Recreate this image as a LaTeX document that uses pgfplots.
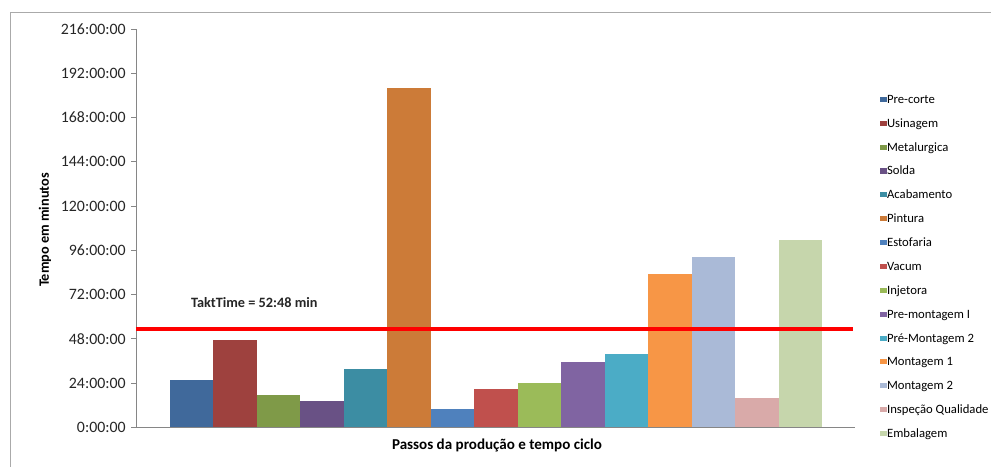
\documentclass[border=0pt]{standalone}
\usepackage{fontspec}
\setmainfont{Carlito}
\usepackage{pgfplots}
\pgfplotsset{compat=1.18}
\definecolor{c1}{HTML}{40699B}
\definecolor{c2}{HTML}{9E413E}
\definecolor{c3}{HTML}{7F9A48}
\definecolor{c4}{HTML}{695185}
\definecolor{c5}{HTML}{3C8DA3}
\definecolor{c6}{HTML}{CC7B38}
\definecolor{c7}{HTML}{4F81BD}
\definecolor{c8}{HTML}{C0504D}
\definecolor{c9}{HTML}{9BBB59}
\definecolor{c10}{HTML}{8064A2}
\definecolor{c11}{HTML}{4BACC6}
\definecolor{c12}{HTML}{F79646}
\definecolor{c13}{HTML}{AABAD7}
\definecolor{c14}{HTML}{D9AAA9}
\definecolor{c15}{HTML}{C6D6AC}
\definecolor{axgray}{HTML}{868686}
\begin{document}
\begin{tikzpicture}
\path[use as bounding box] (0,0) rectangle (625pt,293.9pt);
\draw[axgray!70, line width=0.6pt] (6.9pt,-2pt) -- (6.9pt,286.3pt) -- (630pt,286.3pt);
\begin{axis}[
  at={(85.77pt,24.4pt)}, anchor=south west,
  scale only axis, width=453.5pt, height=251.2pt,
  xmin=-0.28, xmax=16.25, ymin=0, ymax=216,
  axis x line*=bottom, axis y line*=left,
  x axis line style={axgray, line width=0.9pt, -},
  y axis line style={axgray, line width=0.5pt, -},
  xtick=\empty,
  ytick={0,24,...,216},
  yticklabels={0:00:00,24:00:00,48:00:00,72:00:00,96:00:00,120:00:00,144:00:00,168:00:00,192:00:00,216:00:00},
  tick align=outside, major tick length=3pt,
  y tick style={axgray, line width=0.5pt},
  /pgf/number format/assume math mode=true,
  yticklabel style={font=\fontsize{10}{12}\selectfont, text=black!85},
  ylabel={Tempo em minutos},
  xlabel={Passos da produção e tempo ciclo},
  every axis y label/.style={at={(axis description cs:-0.1266,0.4954)}, rotate=90, anchor=center, font=\bfseries\fontsize{9}{11}\selectfont},
  every axis x label/.style={at={(axis description cs:0.502,-0.0444)}, anchor=center, font=\bfseries\fontsize{9.5}{11}\selectfont},
  bar width=1, bar shift=0pt,
  legend style={at={(axis description cs:1.0348,0.836)}, anchor=north west, draw=none, fill=none, inner sep=0pt,
    font=\fontsize{8}{9.6}\selectfont, row sep=8.05pt,
    nodes={inner sep=0pt, text height=5.5pt, text depth=1.5pt},
    /tikz/every even column/.append style={column sep=1.3pt}},
  legend cell align=left,
  legend image code/.code={\fill[#1] (0pt,-1.1pt) rectangle (4.2pt,2.1pt);},
]
\addplot[ybar, fill=c1, draw=none] coordinates {(1,25.6)};
\addlegendentry{Pre-corte}
\addplot[ybar, fill=c2, draw=none] coordinates {(2,47.3)};
\addlegendentry{Usinagem}
\addplot[ybar, fill=c3, draw=none] coordinates {(3,17.6)};
\addlegendentry{Metalurgica}
\addplot[ybar, fill=c4, draw=none] coordinates {(4,14.4)};
\addlegendentry{Solda}
\addplot[ybar, fill=c5, draw=none] coordinates {(5,31.7)};
\addlegendentry{Acabamento}
\addplot[ybar, fill=c6, draw=none] coordinates {(6,183.9)};
\addlegendentry{Pintura}
\addplot[ybar, fill=c7, draw=none] coordinates {(7,10.0)};
\addlegendentry{Estofaria}
\addplot[ybar, fill=c8, draw=none] coordinates {(8,20.6)};
\addlegendentry{Vacum}
\addplot[ybar, fill=c9, draw=none] coordinates {(9,24.2)};
\addlegendentry{Injetora}
\addplot[ybar, fill=c10, draw=none] coordinates {(10,35.4)};
\addlegendentry{Pre-montagem I}
\addplot[ybar, fill=c11, draw=none] coordinates {(11,39.8)};
\addlegendentry{Pré-Montagem 2}
\addplot[ybar, fill=c12, draw=none] coordinates {(12,83.4)};
\addlegendentry{Montagem 1}
\addplot[ybar, fill=c13, draw=none] coordinates {(13,92.6)};
\addlegendentry{Montagem 2}
\addplot[ybar, fill=c14, draw=none] coordinates {(14,16.1)};
\addlegendentry{Inspeção Qualidade}
\addplot[ybar, fill=c15, draw=none] coordinates {(15,101.8)};
\addlegendentry{Embalagem}
\addplot[red, line width=2.2pt, forget plot] coordinates {(-0.28,53.2) (16.2,53.2)};
\node[font=\bfseries\fontsize{9}{10}\selectfont, text=black!85] at (axis cs:2.44,67.5) {TaktTime = 52:48 min};
\end{axis}
\end{tikzpicture}
\end{document}
